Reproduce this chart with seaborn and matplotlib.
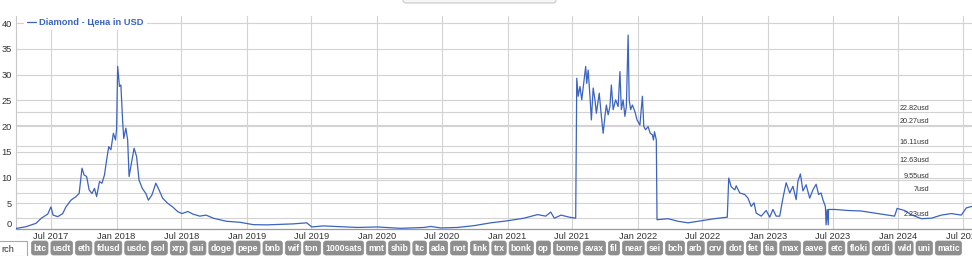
import matplotlib
matplotlib.use("Agg")
import matplotlib.pyplot as plt
import matplotlib.dates as mdates
from matplotlib.patches import FancyBboxPatch, Rectangle
import matplotlib.transforms as mtransforms
import seaborn as sns
import pandas as pd

# ---------------- data ----------------
dates = [
    "2017-03-25", "2017-04-22", "2017-05-20", "2017-06-04", "2017-06-22", "2017-07-01",
    "2017-07-07", "2017-07-20", "2017-08-03", "2017-08-12", "2017-08-26", "2017-09-09",
    "2017-09-18", "2017-09-26", "2017-10-02", "2017-10-09", "2017-10-16", "2017-10-24",
    "2017-10-31", "2017-11-06", "2017-11-14", "2017-11-21", "2017-11-28", "2017-12-04",
    "2017-12-10", "2017-12-16", "2017-12-23", "2017-12-29", "2018-01-01", "2018-01-04",
    "2018-01-09", "2018-01-13", "2018-01-18", "2018-01-21", "2018-01-27", "2018-02-01",
    "2018-02-05", "2018-02-13", "2018-02-19", "2018-02-26", "2018-03-05", "2018-03-14",
    "2018-03-24", "2018-03-31", "2018-04-10", "2018-04-21", "2018-04-28", "2018-05-10",
    "2018-05-24", "2018-06-07", "2018-06-21", "2018-07-03", "2018-07-20", "2018-08-03",
    "2018-08-22", "2018-09-09", "2018-09-29", "2018-11-05", "2018-12-13", "2019-01-19",
    "2019-02-26", "2019-04-04", "2019-05-12", "2019-06-18", "2019-07-02", "2019-08-04",
    "2019-09-21", "2019-11-07", "2020-01-02", "2020-03-07", "2020-05-12", "2020-05-31",
    "2020-06-28", "2020-08-13", "2020-09-29", "2020-11-15", "2021-01-01", "2021-02-16",
    "2021-03-26", "2021-04-18", "2021-05-02", "2021-05-12", "2021-05-31", "2021-06-23",
    "2021-07-11", "2021-07-14", "2021-07-18", "2021-07-23", "2021-07-28", "2021-08-01",
    "2021-08-08", "2021-08-11", "2021-08-15", "2021-08-20", "2021-08-24", "2021-08-29",
    "2021-09-03", "2021-09-07", "2021-09-15", "2021-09-21", "2021-09-26", "2021-10-01",
    "2021-10-05", "2021-10-10", "2021-10-15", "2021-10-19", "2021-10-24", "2021-10-31",
    "2021-11-07", "2021-11-12", "2021-11-16", "2021-11-21", "2021-11-26", "2021-11-30",
    "2021-12-05", "2021-12-08", "2021-12-12", "2021-12-17", "2021-12-24", "2021-12-30",
    "2022-01-07", "2022-01-14", "2022-01-18", "2022-01-23", "2022-01-30", "2022-02-05",
    "2022-02-11", "2022-02-14", "2022-02-17", "2022-02-22", "2022-02-24", "2022-03-27",
    "2022-04-24", "2022-05-22", "2022-06-28", "2022-08-04", "2022-09-09", "2022-09-13",
    "2022-09-20", "2022-09-30", "2022-10-04", "2022-10-14", "2022-10-28", "2022-11-06",
    "2022-11-15", "2022-11-23", "2022-11-29", "2022-12-13", "2022-12-27", "2023-01-06",
    "2023-01-15", "2023-01-24", "2023-02-03", "2023-02-12", "2023-02-21", "2023-03-03",
    "2023-03-12", "2023-03-21", "2023-03-26", "2023-04-02", "2023-04-09", "2023-04-18",
    "2023-04-28", "2023-05-07", "2023-05-16", "2023-05-23", "2023-05-30", "2023-06-04",
    "2023-06-11", "2023-06-13", "2023-06-16", "2023-06-19", "2023-06-20", "2023-07-07",
    "2023-08-13", "2023-09-19", "2023-11-05", "2023-12-22", "2023-12-29", "2024-01-19",
    "2024-02-06", "2024-03-06", "2024-04-03", "2024-05-01", "2024-05-29", "2024-06-26",
    "2024-07-10", "2024-07-26",
]
prices = [
    0.1, 0.45, 1.1, 2.1, 2.9, 4.3,
    2.7, 2.4, 3.0, 4.3, 5.6, 6.3,
    6.9, 11.8, 10.5, 10.2, 7.6, 6.9,
    7.9, 6.3, 9.2, 8.9, 10.5, 13.4,
    16.0, 15.4, 18.6, 17.3, 19.5, 31.6,
    27.7, 28.0, 20.9, 17.6, 19.6, 17.3,
    10.2, 13.4, 15.7, 14.1, 9.5, 7.9,
    6.9, 5.6, 6.6, 8.9, 7.9, 6.0,
    5.0, 4.3, 3.4, 3.0, 3.4, 2.9,
    2.5, 2.7, 2.1, 1.5, 1.3, 0.85,
    0.8, 0.9, 1.0, 1.2, 0.4, 0.6,
    0.45, 0.3, 0.4, 0.13, 0.3, 0.5,
    0.2, 0.3, 0.65, 1.2, 1.6, 2.1,
    2.8, 2.5, 3.3, 2.1, 2.7, 2.3,
    2.1, 29.3, 25.8, 27.7, 25.1, 27.4,
    31.6, 28.3, 30.9, 25.8, 21.2, 27.4,
    25.1, 22.5, 26.4, 21.9, 18.6, 21.9,
    24.1, 22.2, 23.8, 28.0, 23.2, 25.1,
    23.8, 30.6, 23.2, 25.1, 21.9, 23.8,
    37.7, 25.1, 23.2, 24.1, 22.8, 21.2,
    20.2, 25.8, 19.9, 19.3, 19.9, 18.6,
    18.3, 17.3, 18.9, 17.3, 1.8, 2.0,
    1.5, 1.2, 1.6, 2.0, 2.3, 9.9,
    8.2, 7.6, 8.4, 7.0, 6.7, 6.0,
    4.4, 5.1, 3.1, 2.5, 3.6, 2.3,
    3.8, 2.5, 2.5, 6.0, 9.0, 7.0,
    8.3, 5.7, 9.3, 10.7, 7.4, 8.6,
    6.0, 7.6, 8.7, 6.7, 7.0, 5.7,
    4.4, 0.8, 3.8, 0.8, 3.8, 3.8,
    3.6, 3.5, 3.0, 2.5, 4.0, 3.6,
    2.8, 2.0, 2.1, 2.7, 3.0, 2.7,
    4.1, 4.4,
]
series_label = "Diamond - Цена in USD"
level_values = [22.82, 20.27, 16.11, 12.63, 9.55, 7, 2.23]
level_labels = ["22.82usd", "20.27usd", "16.11usd", "12.63usd", "9.55usd", "7usd", "2.23usd"]
y_ticks = [0, 5, 10, 15, 20, 25, 30, 35, 40]
tags = ["btc", "usdt", "eth", "fdusd", "usdc", "sol", "xrp", "sui", "doge", "pepe",
        "bnb", "wif", "ton", "1000sats", "mnt", "shib", "ltc", "ada", "not", "link",
        "trx", "bonk", "op", "bome", "avax", "fil", "near", "sei", "bch", "arb", "crv",
        "dot", "fet", "tia", "max", "aave", "etc", "floki", "ordi", "wld", "uni", "matic"]
search_text = "rch"

df = pd.DataFrame({"date": pd.to_datetime(dates), "price": prices})

# ---------------- figure ----------------
W, H = 972, 256
sns.set_style("white")
plt.rcParams["font.family"] = ["Liberation Sans", "DejaVu Sans"]

fig = plt.figure(figsize=(W / 100, H / 100), dpi=100)
fig.patch.set_facecolor("white")

ax_l, ax_r, ax_t, ax_b = 16, 972, 16, 229
ax = fig.add_axes([ax_l / W, 1 - ax_b / H, (ax_r - ax_l) / W, (ax_b - ax_t) / H])

line_color = "#3b63c0"
grid_color = "#d3d3d3"

sns.lineplot(data=df, x="date", y="price", ax=ax, color=line_color, linewidth=0.9,
             label=series_label, zorder=3)

ax.set_xlim(pd.Timestamp("2017-03-25"), pd.Timestamp("2024-07-26"))
ax.set_ylim(0, 41.4)

ax.xaxis.set_major_locator(mdates.MonthLocator(bymonth=[1, 7]))
ax.xaxis.set_major_formatter(mdates.DateFormatter("%b %Y"))
ax.set_yticks(y_ticks)
ax.set_xlabel("")
ax.set_ylabel("")

ax.grid(True, color=grid_color, linewidth=0.8, zorder=0)
for v in level_values:
    ax.axhline(v, color=grid_color, linewidth=0.8, zorder=1)

ax.tick_params(axis="both", length=0, labelsize=6.7, labelcolor="#333333")
ax.tick_params(axis="x", pad=2.5)
ax.tick_params(axis="y", pad=3)
for lab in ax.get_yticklabels():
    if lab.get_text() == "0":
        lab.set_verticalalignment("bottom")

for s in ["top", "right"]:
    ax.spines[s].set_visible(False)
ax.spines["left"].set_color("#c8c8c8")
ax.spines["left"].set_linewidth(0.8)
ax.spines["bottom"].set_color("#9a9a9a")
ax.spines["bottom"].set_linewidth(0.9)

# level annotations
trans = mtransforms.blended_transform_factory(ax.transAxes, ax.transData)
for v, t in zip(level_values, level_labels):
    ax.text((929 - ax_l) / (ax_r - ax_l), v, t, transform=trans, ha="right", va="bottom",
            fontsize=5.2, color="#333333", zorder=4)

# legend
leg = ax.legend(loc="upper left", bbox_to_anchor=(24 / W, 1 - 15 / H),
                bbox_transform=fig.transFigure, frameon=True, fontsize=6.7,
                handlelength=1.0, handletextpad=0.35, borderpad=0.3, borderaxespad=0,
                labelcolor=line_color, prop={"weight": "bold", "size": 6.7})
leg.get_frame().set_facecolor("white")
leg.get_frame().set_edgecolor("none")
leg.get_frame().set_alpha(1)
for h in leg.get_lines():
    h.set_linewidth(0.9)

# ---------------- page chrome (top button, search box, tag buttons) ----------------
def px(x, y):
    return x, H - y

top_btn = FancyBboxPatch(px(403, 3), 153, 10, boxstyle="round,pad=0,rounding_size=3",
                         transform=None, facecolor="#f6f6f6", edgecolor="#c9c9c9",
                         linewidth=0.8)
fig.add_artist(top_btn)

search = Rectangle(px(-4, 256), 31, 15, transform=None, facecolor="white",
                   edgecolor="#a8a8a8", linewidth=0.8)
fig.add_artist(search)
fig.text(1 / W, 1 - 249 / H, search_text, fontsize=6.7, color="#333333", va="center",
         ha="left")

fig.canvas.draw()
renderer = fig.canvas.get_renderer()
tag_fs = 6.2
pad = 1.7
tx = []
widths = []
for t in tags:
    txt = fig.text(0, 0, t, fontsize=tag_fs, weight="bold", color="white")
    w = txt.get_window_extent(renderer).width
    txt.remove()
    widths.append(w + 2 * pad)
start, end = 31.5, 961.5
gap = (end - start - sum(widths)) / (len(tags) - 1)
x = start
box_top, box_bot = 241, 255
for t, w in zip(tags, widths):
    box = FancyBboxPatch(px(x, box_bot), w, box_bot - box_top,
                         boxstyle="round,pad=0,rounding_size=2.5", transform=None,
                         facecolor="#8e8e8e", edgecolor="#8e8e8e", linewidth=0.5)
    fig.add_artist(box)
    fig.text((x + w / 2) / W, 1 - 248.3 / H, t, fontsize=tag_fs, weight="bold",
             color="white", ha="center", va="center")
    x += w + gap

fig.savefig("out.png", dpi=100, facecolor="white")
